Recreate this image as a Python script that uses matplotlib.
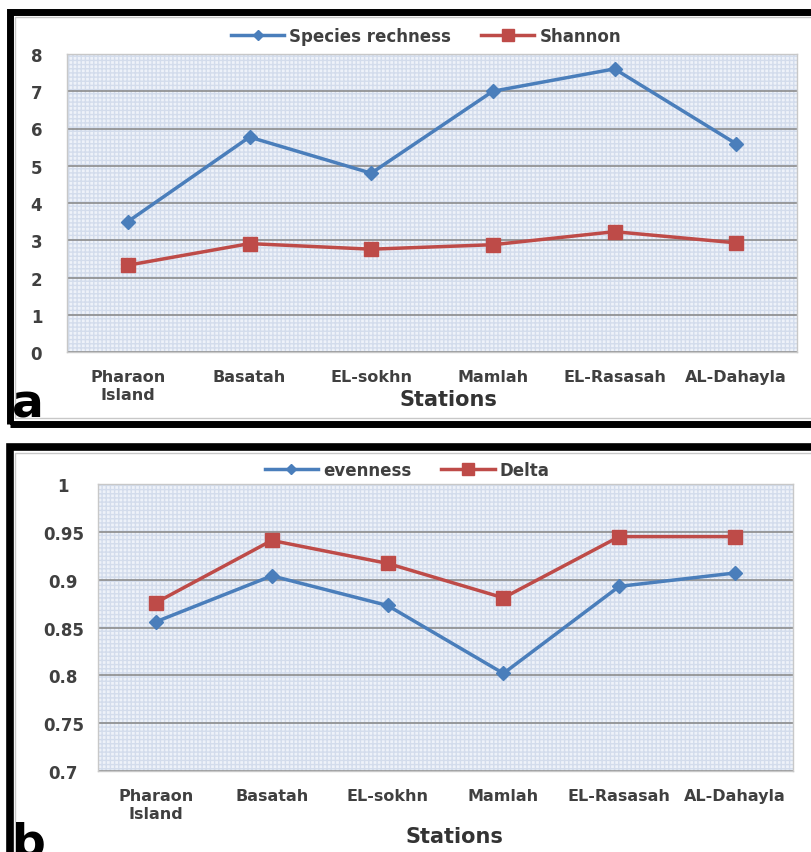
import numpy as np
import matplotlib.pyplot as plt
from matplotlib.patches import Rectangle

stations = ["Pharaon\nIsland", "Basatah", "EL-sokhn", "Mamlah", "EL-Rasasah", "AL-Dahayla"]

species = [3.5, 5.77, 4.8, 7.0, 7.6, 5.59]
shannon = [2.33, 2.91, 2.76, 2.88, 3.23, 2.93]

evenness = [0.856, 0.904, 0.873, 0.802, 0.893, 0.907]
delta = [0.876, 0.941, 0.917, 0.881, 0.945, 0.945]

W, H = 811, 853
blue = "#4a7ebb"
red = "#be4b48"
txt = "#404040"


def fx(px):
    return px / W


def fy(py):
    return 1 - py / H


def style_axes(ax, ymin, ymax, step, ypad, fmt):
    ax.set_facecolor("#eef2f9")
    ax.add_patch(Rectangle((0, 0), 1, 1, transform=ax.transAxes, facecolor="none",
                           edgecolor="#d3dcec", hatch="++++", lw=0, zorder=0))
    ticks = np.arange(ymin, ymax + step / 2, step)
    ax.set_ylim(ymin, ymax)
    ax.set_yticks(ticks)
    ax.set_yticklabels([fmt(t) for t in ticks], fontsize=12, fontweight="bold", color=txt)
    for lab in ax.get_yticklabels():
        lab.set_ha("center")
    ax.tick_params(axis="y", length=0, pad=ypad)
    ax.tick_params(axis="x", length=0, pad=12)
    ax.set_xlim(-0.5, len(stations) - 0.5)
    ax.set_xticks(range(len(stations)))
    ax.set_xticklabels(stations, fontsize=11.5, fontweight="bold", color=txt, linespacing=1.3)
    for t in ticks:
        ax.axhline(t, color="#8c8c8c", lw=1.2, zorder=1)
    for s in ax.spines.values():
        s.set_color("#c8c8c8")
        s.set_linewidth(1)


fig = plt.figure(figsize=(W / 100, H / 100), dpi=100)
fig.patch.set_facecolor("white")

# black frames round the two panels
fig.patches.append(Rectangle((fx(10), fy(424.5)), fx(820), fy(12.5) - fy(424.5), transform=fig.transFigure,
                             facecolor="none", edgecolor="black", lw=5, zorder=0))
fig.patches.append(Rectangle((fx(10), fy(880)), fx(820), fy(448) - fy(880), transform=fig.transFigure,
                             facecolor="none", edgecolor="black", lw=5.5, zorder=0))
# thin grey chart-area edges inside the frames
fig.patches.append(Rectangle((fx(15), fy(419)), fx(810), fy(18) - fy(419), transform=fig.transFigure,
                             facecolor="none", edgecolor="#c8c8c8", lw=1, zorder=0))
fig.patches.append(Rectangle((fx(15), fy(870)), fx(810), fy(454) - fy(870), transform=fig.transFigure,
                             facecolor="none", edgecolor="#c8c8c8", lw=1, zorder=0))

# panel a
ax1 = fig.add_axes([fx(67), fy(353), fx(730), (353 - 55) / H])
style_axes(ax1, 0, 8, 1, 22, lambda v: "%d" % v)
x = np.arange(len(stations))
l1, = ax1.plot(x, species, color=blue, lw=2.5, marker="D", ms=7, zorder=3, label="Species rechness")
l2, = ax1.plot(x, shannon, color=red, lw=2.5, marker="s", ms=10, zorder=3, label="Shannon")
fig.legend(handles=[l1, l2], loc="center", bbox_to_anchor=(fx(426), fy(37)), ncol=2, frameon=False,
           prop={"size": 12, "weight": "bold"}, labelcolor=txt, handlelength=3.2, columnspacing=1.8,
           handletextpad=0.3, markerscale=0.8)
fig.text(fx(448), fy(400), "Stations", fontsize=15, fontweight="bold", color="#333333",
         ha="center", va="center")
fig.text(fx(12), fy(418), "a", fontsize=34, fontweight="heavy", color="black", ha="left", va="baseline")

# panel b
ax2 = fig.add_axes([fx(98), fy(772), fx(695), (772 - 485) / H])
style_axes(ax2, 0.7, 1.0, 0.05, 25, lambda v: ("%.2f" % v).rstrip("0").rstrip("."))
l3, = ax2.plot(x, evenness, color=blue, lw=2.5, marker="D", ms=7, zorder=3, label="evenness")
l4, = ax2.plot(x, delta, color=red, lw=2.5, marker="s", ms=10, zorder=3, label="Delta")
fig.legend(handles=[l3, l4], loc="center", bbox_to_anchor=(fx(407), fy(471)), ncol=2, frameon=False,
           prop={"size": 12, "weight": "bold"}, labelcolor=txt, handlelength=3.2, columnspacing=1.8,
           handletextpad=0.3, markerscale=0.8)
fig.text(fx(454), fy(837), "Stations", fontsize=15, fontweight="bold", color="#333333",
         ha="center", va="center")
fig.text(fx(12), fy(857), "b", fontsize=34, fontweight="heavy", color="black", ha="left", va="baseline")

fig.savefig("out.png", dpi=100)
